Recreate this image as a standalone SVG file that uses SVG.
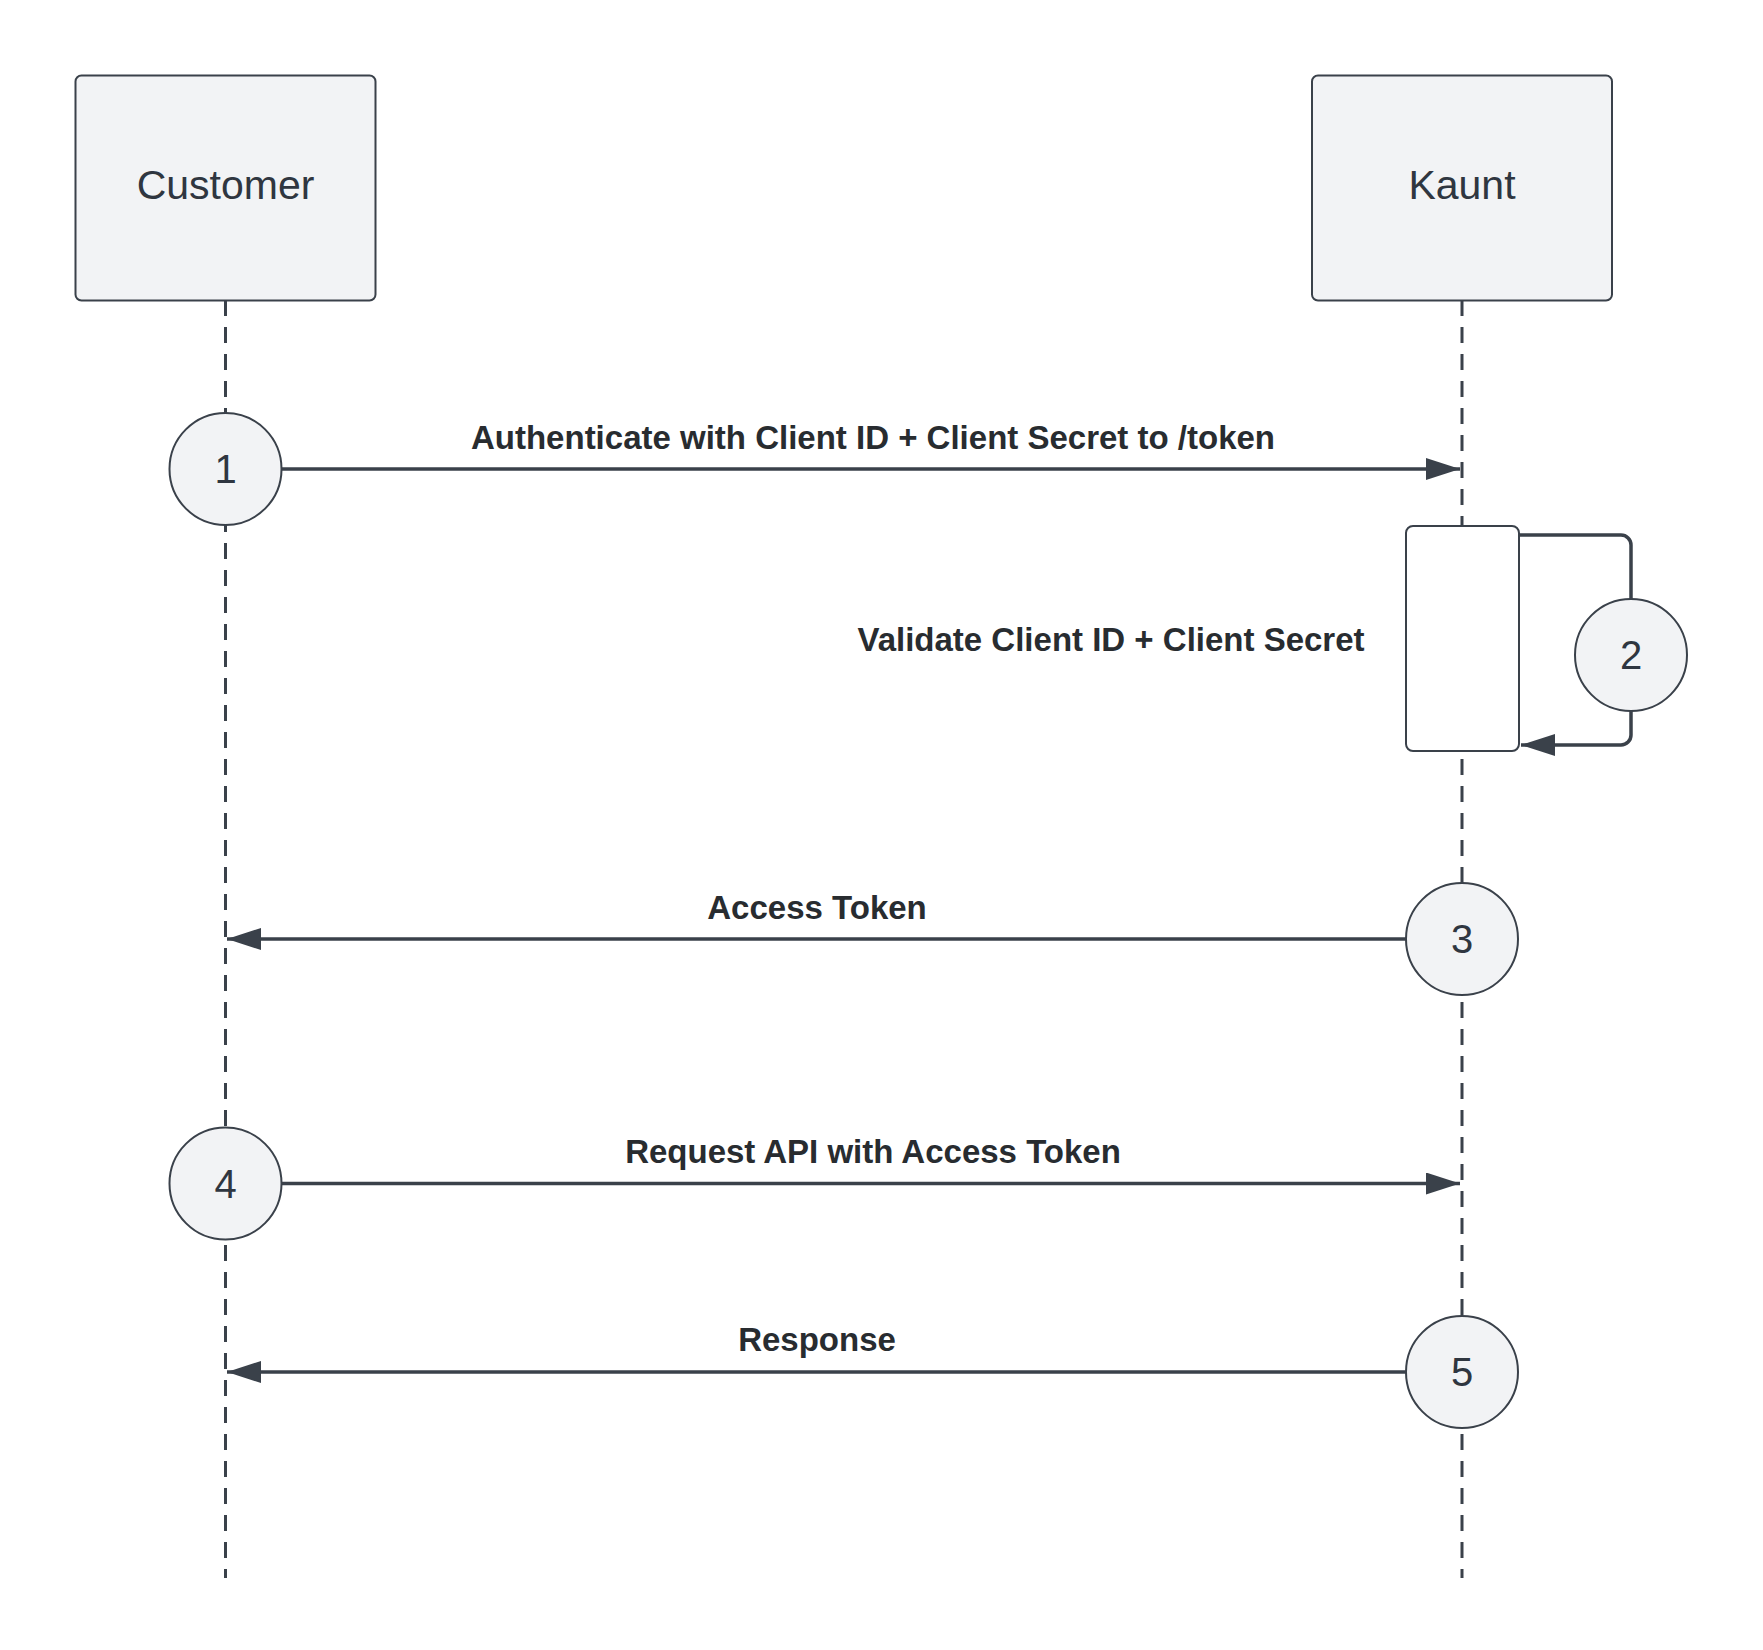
<svg xmlns="http://www.w3.org/2000/svg" width="1763" height="1650" viewBox="0 0 1763 1650">
<style>
.box{fill:#f2f3f5;stroke:#3a414a;stroke-width:2}
.life{stroke:#3a414a;stroke-width:3;stroke-dasharray:16 11;fill:none}
.ln{stroke:#3a414a;stroke-width:3.5;fill:none}
.t{font-family:"Liberation Sans",Arial,sans-serif;fill:#2f3640;text-anchor:middle}
.lbl{font-family:"Liberation Sans",Arial,sans-serif;font-weight:bold;font-size:33px;fill:#282c30;text-anchor:middle}
</style>
<defs>
<marker id="a" viewBox="0 0 34 22" refX="34" refY="11" markerWidth="34" markerHeight="22" markerUnits="userSpaceOnUse" orient="auto"><path d="M0,0L34,11L0,22z" fill="#3a414a"/></marker></defs>
<rect width="1763" height="1650" fill="#fff"/>
<g id="lifelines">
<line class="life" x1="225.5" y1="300" x2="225.5" y2="1578"/>
<line class="life" x1="1462" y1="300" x2="1462" y2="1578"/>
</g>
<g id="customer"><rect class="box" x="75.5" y="75.5" width="300" height="225" rx="6"/><text class="t" x="225.5" y="199" font-size="41">Customer</text></g>
<g id="kaunt"><rect class="box" x="1312" y="75.5" width="300" height="225" rx="6"/><text class="t" x="1462" y="199" font-size="41">Kaunt</text></g>
<g id="activation"><rect x="1406" y="526" width="113" height="225" rx="7" fill="#fff" stroke="#3a414a" stroke-width="2"/></g>
<g id="connectors">
<line class="ln" x1="281" y1="469" x2="1460" y2="469" marker-end="url(#a)"/>
<path class="ln" d="M1519,535H1621a10,10 0 0 1 10,10V600M1631,710V735a10,10 0 0 1 -10,10H1521" marker-end="url(#a)"/>
<line class="ln" x1="1406" y1="939" x2="227" y2="939" marker-end="url(#a)"/>
<line class="ln" x1="281" y1="1183.5" x2="1460" y2="1183.5" marker-end="url(#a)"/>
<line class="ln" x1="1406" y1="1372" x2="227" y2="1372" marker-end="url(#a)"/>
<text class="lbl" x="873" y="449">Authenticate with Client ID + Client Secret to /token</text>
<text class="lbl" x="1111" y="651">Validate Client ID + Client Secret</text>
<text class="lbl" x="817" y="919">Access Token</text>
<text class="lbl" x="873" y="1163">Request API with Access Token</text>
<text class="lbl" x="817" y="1351">Response</text>
</g>
<g id="step1"><circle class="box" cx="225.5" cy="469" r="56"/><text class="t" x="225.5" y="483" font-size="40">1</text></g>
<g id="step2"><circle class="box" cx="1631" cy="655" r="56"/><text class="t" x="1631" y="669" font-size="40">2</text></g>
<g id="step3"><circle class="box" cx="1462" cy="939" r="56"/><text class="t" x="1462" y="953" font-size="40">3</text></g>
<g id="step4"><circle class="box" cx="225.5" cy="1183.5" r="56"/><text class="t" x="225.5" y="1197.5" font-size="40">4</text></g>
<g id="step5"><circle class="box" cx="1462" cy="1372" r="56"/><text class="t" x="1462" y="1386" font-size="40">5</text></g>
</svg>
